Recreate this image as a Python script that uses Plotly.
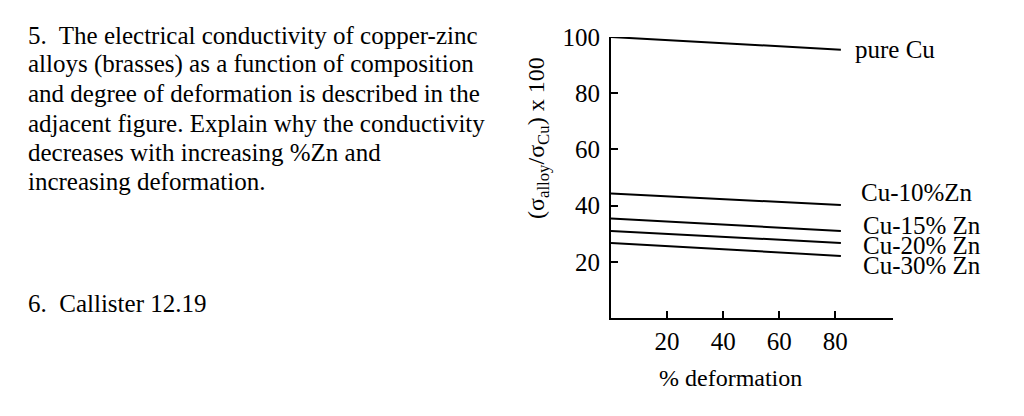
import plotly.graph_objects as go

# ---- data ----
deformation = [0, 82]
series_names = ["pure Cu", "Cu-10%Zn", "Cu-15% Zn", "Cu-20% Zn", "Cu-30% Zn"]
pure_cu = [100, 95.5]
cu10 = [44.3, 40.2]
cu15 = [35.4, 31.0]
cu20 = [31.0, 26.7]
cu30 = [26.7, 22.1]
series_values = [pure_cu, cu10, cu15, cu20, cu30]
x_ticks = [20, 40, 60, 80]
y_ticks = [20, 40, 60, 80, 100]

question_lines = [
    "5.&nbsp; The electrical conductivity of copper-zinc",
    "alloys (brasses) as a function of composition",
    "and degree of deformation is described in the",
    "adjacent figure. Explain why the conductivity",
    "decreases with increasing %Zn and",
    "increasing deformation.",
]
second_question = "6.&nbsp; Callister 12.19"

# ---- layout geometry (page pixels; the page body adds an 8px offset) ----
OFF = 8
W, H = 1024 - OFF, 416 - OFF
L, R, T, B = 611 - OFF, 893 - OFF, 37 - OFF, 318 - OFF
FONT = "Liberation Serif, Times New Roman, serif"


def px(xp):
    return (xp - OFF - L) / (R - L)


def py(yp):
    return (B - (yp - OFF)) / (B - T)


fig = go.Figure()
for vals in series_values:
    fig.add_trace(go.Scatter(x=deformation, y=vals, mode="lines",
                             line=dict(color="black", width=2),
                             showlegend=False, hoverinfo="skip"))

ann = []
# series labels
label_pos = [(853, 50), (859, 192), (861, 225), (861, 245), (861, 265)]
for name, (lx, ly) in zip(series_names, label_pos):
    ann.append(dict(text=name, xref="paper", yref="paper", x=px(lx), y=py(ly),
                    xanchor="left", yanchor="middle", showarrow=False,
                    font=dict(family=FONT, size=25, color="black")))

# axis titles
ann.append(dict(text="% deformation", xref="paper", yref="paper", x=px(730), y=py(378),
                xanchor="center", yanchor="middle", showarrow=False,
                font=dict(family=FONT, size=24, color="black")))
ann.append(dict(text="(σ<sub>alloy</sub>/σ<sub>Cu</sub>) x 100", xref="paper", yref="paper",
                x=px(538), y=py(138), xanchor="center", yanchor="middle", textangle=-90,
                showarrow=False, font=dict(family=FONT, size=24, color="black")))

# question text
line_y = [35, 64.3, 93.7, 123, 152.3, 181.7]
for t, yy in zip(question_lines, line_y):
    ann.append(dict(text=t, xref="paper", yref="paper", x=px(26), y=py(yy),
                    xanchor="left", yanchor="middle", showarrow=False,
                    font=dict(family=FONT, size=25, color="black")))
ann.append(dict(text=second_question, xref="paper", yref="paper", x=px(26), y=py(303),
                xanchor="left", yanchor="middle", showarrow=False,
                font=dict(family=FONT, size=25, color="black")))

fig.update_layout(
    width=W, height=H,
    margin=dict(l=L, r=W - R, t=T, b=H - B, pad=0),
    paper_bgcolor="white", plot_bgcolor="white",
    annotations=ann,
    font=dict(family=FONT, color="black"),
    xaxis=dict(range=[0, 100.6], showline=True, linecolor="black", linewidth=2,
               ticks="inside", ticklen=7, tickwidth=2, tickcolor="black",
               tickvals=x_ticks, ticktext=[str(v) for v in x_ticks],
               showgrid=False, zeroline=False, tickfont=dict(family=FONT, size=25),
               ticklabelstandoff=0),
    yaxis=dict(range=[0, 100], showline=True, linecolor="black", linewidth=2,
               ticks="inside", ticklen=7, tickwidth=2, tickcolor="black",
               tickvals=y_ticks, ticktext=[str(v) for v in y_ticks],
               showgrid=False, zeroline=False, tickfont=dict(family=FONT, size=25),
               ticklabelstandoff=4),
)

fig.write_html("out.html")
